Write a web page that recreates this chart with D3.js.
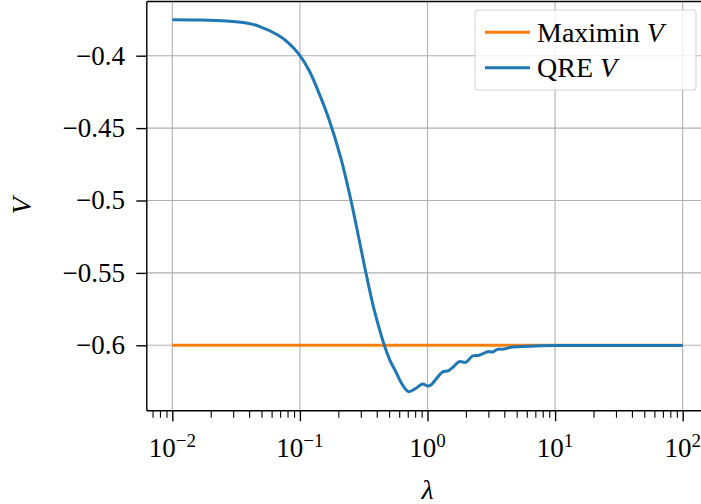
<!DOCTYPE html>
<html>
<head>
<meta charset="utf-8">
<script src="https://cdn.jsdelivr.net/npm/d3@7"></script>
<style>
  body { margin: 0; background: #fff; }
  svg { display: block; }
  text { font-family: "Liberation Serif", "DejaVu Serif", serif; fill: #000; }
</style>
</head>
<body>
<svg id="chart" width="701" height="504"></svg>
<script>
// maximin value is flat
const lambdaMaximin = [0.01, 100]
const vMaximin = [-0.6, -0.6]

// QRE value
const lambdaQre = [0.0100, 0.0162, 0.0264, 0.0380, 0.0480, 0.0688, 0.0824, 0.0988, 0.1184, 0.1417,
  0.1697, 0.2096, 0.2510, 0.2917, 0.3290, 0.3823, 0.4580, 0.5070, 0.5560, 0.6370,
  0.7100, 0.8110, 0.9140, 1.000, 1.063, 1.164, 1.311, 1.461, 1.619, 1.772,
  2.000, 2.253, 2.541, 2.952, 3.230, 3.536, 3.990, 4.500, 5.070, 6.270,
  9.840, 22.2, 100]
const vQre = [-0.3751, -0.3753, -0.3760, -0.3774, -0.3797, -0.3862, -0.3916, -0.3992, -0.4104, -0.4262,
  -0.4444, -0.4709, -0.4997, -0.5273, -0.5499, -0.5756, -0.5998, -0.6102, -0.6171, -0.6274,
  -0.6320, -0.6297, -0.6267, -0.6281, -0.6274, -0.6235, -0.6184, -0.6175, -0.6143, -0.6113,
  -0.6117, -0.6074, -0.6069, -0.6044, -0.6046, -0.6028, -0.6026, -0.6014, -0.6010, -0.6006,
  -0.6002, -0.6001, -0.6001]

const xMajor = [-2, -1, 0, 1, 2]
const yTicks = [-0.6, -0.55, -0.5, -0.45, -0.4]
const yTickLabels = ["\u22120.6", "\u22120.55", "\u22120.5", "\u22120.45", "\u22120.4"]

const svg = d3.select('#chart')
const pLeft = 146.8, pRight = 708.2, pTop = 1.5, pBottom = 410.7

const x = d3.scaleLog()
    .domain([Math.pow(10, -2.2), Math.pow(10, 2.2)])
    .range([pLeft, pRight])
const y = d3.scaleLinear()
    .domain([-0.64517, -0.36257])
    .range([pBottom, pTop])

const grid = svg.append('g')
xMajor.forEach(e => {
    grid.append('line')
        .attr('x1', x(Math.pow(10, e))).attr('x2', x(Math.pow(10, e)))
        .attr('y1', pTop).attr('y2', pBottom)
        .attr('stroke', '#b0b0b0').attr('stroke-width', 1.1)
})
yTicks.forEach(v => {
    grid.append('line')
        .attr('x1', pLeft).attr('x2', pRight)
        .attr('y1', y(v)).attr('y2', y(v))
        .attr('stroke', '#b0b0b0').attr('stroke-width', 1.1)
})

svg.append('clipPath').attr('id', 'clip')
    .append('rect').attr('x', pLeft).attr('y', pTop)
    .attr('width', pRight - pLeft).attr('height', pBottom - pTop)

const line = d3.line()
    .x(d => x(d[0]))
    .y(d => y(d[1]))
    .curve(d3.curveCatmullRom.alpha(0.5))

const plot = svg.append('g').attr('clip-path', 'url(#clip)')
plot.append('path')
    .datum(d3.zip(lambdaMaximin, vMaximin))
    .attr('d', line)
    .attr('fill', 'none').attr('stroke', '#ff7f0e').attr('stroke-width', 3)
plot.append('path')
    .datum(d3.zip(lambdaQre, vQre))
    .attr('d', line)
    .attr('fill', 'none').attr('stroke', '#1f77b4').attr('stroke-width', 3)
    .attr('stroke-linejoin', 'round')

// axes
const minor = x.ticks().filter(t => Math.abs(Math.log10(t) - Math.round(Math.log10(t))) > 1e-6)
const xMinorAxis = d3.axisBottom(x).tickValues(minor).tickSize(7).tickFormat('')
const xAxis = d3.axisBottom(x).tickValues(xMajor.map(e => Math.pow(10, e))).tickSize(10.5).tickFormat('')
const yAxis = d3.axisLeft(y).tickValues(yTicks).tickSize(10.5).tickFormat('')

svg.append('g').attr('transform', `translate(0,${pBottom})`).call(xMinorAxis)
    .call(g => g.select('.domain').remove())
    .selectAll('line').attr('stroke', '#000').attr('stroke-width', 1.1)
svg.append('g').attr('transform', `translate(0,${pBottom})`).call(xAxis)
    .call(g => g.select('.domain').remove())
    .selectAll('line').attr('stroke', '#000').attr('stroke-width', 1.4)
svg.append('g').attr('transform', `translate(${pLeft},0)`).call(yAxis)
    .call(g => g.select('.domain').remove())
    .selectAll('line').attr('stroke', '#000').attr('stroke-width', 1.4)

// spines
svg.append('line').attr('x1', pLeft).attr('x2', pLeft).attr('y1', pTop).attr('y2', pBottom)
    .attr('stroke', '#000').attr('stroke-width', 1.4)
svg.append('line').attr('x1', pLeft).attr('x2', pRight).attr('y1', pBottom).attr('y2', pBottom)
    .attr('stroke', '#000').attr('stroke-width', 1.4)
svg.append('line').attr('x1', pLeft).attr('x2', pRight).attr('y1', pTop).attr('y2', pTop)
    .attr('stroke', '#000').attr('stroke-width', 1.4)
svg.append('line').attr('x1', pRight).attr('x2', pRight).attr('y1', pTop).attr('y2', pBottom)
    .attr('stroke', '#000').attr('stroke-width', 1.4)

// tick labels
yTicks.forEach((v, i) => {
    svg.append('text')
        .attr('x', 125).attr('y', y(v) + 9)
        .attr('text-anchor', 'end')
        .style('font-size', '27px')
        .text(yTickLabels[i])
})
xMajor.forEach(e => {
    const t = svg.append('text')
        .attr('x', x(Math.pow(10, e))).attr('y', 456.7)
        .attr('text-anchor', 'middle')
        .style('font-size', '27px')
    t.append('tspan').text('10')
    t.append('tspan').attr('dy', -10).style('font-size', '19px')
        .text(e < 0 ? '\u2212' + (-e) : String(e))
})

// axis labels
svg.append('text')
    .attr('transform', 'translate(31,206) rotate(-90)')
    .attr('text-anchor', 'middle')
    .style('font-size', '28px').style('font-style', 'italic')
    .text('V')
svg.append('text')
    .attr('x', 427.5).attr('y', 499)
    .attr('text-anchor', 'middle')
    .style('font-size', '28px').style('font-style', 'italic')
    .text('\u03bb')

// legend
const legend = svg.append('g')
legend.append('rect')
    .attr('x', 475).attr('y', 10).attr('width', 221).attr('height', 80).attr('rx', 3)
    .attr('fill', 'rgba(255,255,255,0.8)').attr('stroke', '#d6d6d6').attr('stroke-width', 1.1)
const entries = [['Maximin ', '#ff7f0e'], ['QRE ', '#1f77b4']]
entries.forEach((en, i) => {
    const cy = 32.3 + i * 35.4
    legend.append('line')
        .attr('x1', 485).attr('x2', 530).attr('y1', cy).attr('y2', cy)
        .attr('stroke', en[1]).attr('stroke-width', 3)
    const t = legend.append('text')
        .attr('x', 537).attr('y', cy + 9.5)
        .style('font-size', '28px')
    t.append('tspan').text(en[0])
    t.append('tspan').style('font-style', 'italic').text('V')
})
</script>
</body>
</html>
